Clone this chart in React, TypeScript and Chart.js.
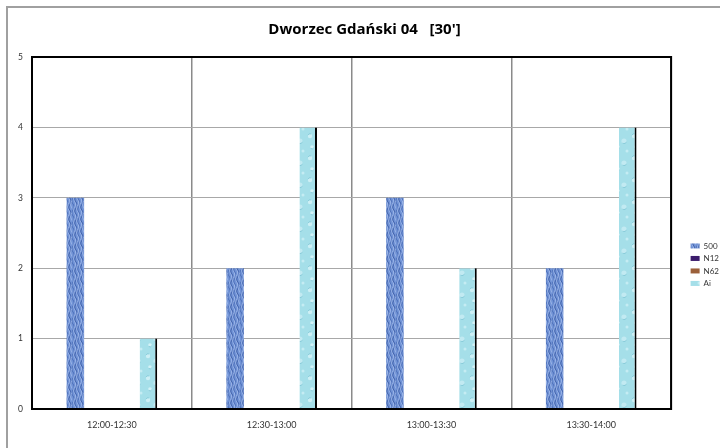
import React, { useEffect, useRef } from 'react';
import { Chart, registerables } from 'chart.js';

Chart.register(...registerables);

const titleText = "Dworzec Gdański 04   [30']";
const categories = ['12:00-12:30', '12:30-13:00', '13:00-13:30', '13:30-14:00'];
const seriesNames = ['500', 'N12', 'N62', 'Ai'];
const values500 = [3, 2, 3, 2];
const valuesN12 = [0, 0, 0, 0];
const valuesN62 = [0, 0, 0, 0];
const valuesAi = [1, 4, 2, 4];
const yMin = 0;
const yMax = 5;
const yStep = 1;

const FONT = 'Lato, "Open Sans", "DejaVu Sans", sans-serif';
const TITLE_FONT = '"Open Sans", Lato, "DejaVu Sans", sans-serif';

function makePattern500(): CanvasPattern | string {
  const c = document.createElement('canvas');
  c.width = 12;
  c.height = 24;
  const g = c.getContext('2d');
  if (!g) return '#6d8fd3';
  g.fillStyle = '#7193d6';
  g.fillRect(0, 0, 12, 24);
  for (let i = 0; i < 4; i++) {
    const x0 = i * 3 + 1;
    g.strokeStyle = i % 2 ? '#4162ab' : '#4e70b9';
    g.lineWidth = 1;
    g.beginPath();
    for (let y = 0; y <= 24; y++) {
      const x = x0 + Math.sin((y / 12) * Math.PI * 2 + i) * 1.2;
      if (y === 0) g.moveTo(x, y);
      else g.lineTo(x, y);
    }
    g.stroke();
    g.strokeStyle = '#abc2ee';
    g.lineWidth = 0.7;
    g.beginPath();
    for (let y = 0; y <= 24; y++) {
      const x = x0 + 1.6 + Math.sin((y / 12) * Math.PI * 2 + i + 1.5) * 1.0;
      if (y === 0) g.moveTo(x, y);
      else g.lineTo(x, y);
    }
    g.stroke();
  }
  return g.createPattern(c, 'repeat') || '#6d8fd3';
}

function makePatternAi(): CanvasPattern | string {
  const c = document.createElement('canvas');
  c.width = 18;
  c.height = 22;
  const g = c.getContext('2d');
  if (!g) return '#a8e1eb';
  g.fillStyle = '#a5dfe9';
  g.fillRect(0, 0, 18, 22);
  const spots: [number, number, number, string][] = [
    [4, 4, 2.2, '#cdeff5'],
    [12, 9, 2.6, '#c2eaf2'],
    [6, 15, 1.8, '#d3f2f7'],
    [15, 19, 1.5, '#c5ecf3'],
  ];
  spots.forEach(([x, y, r, col]) => {
    g.fillStyle = col;
    g.beginPath();
    g.arc(x, y, r, 0, Math.PI * 2);
    g.fill();
  });
  g.strokeStyle = '#7fc6d5';
  g.lineWidth = 0.8;
  g.beginPath();
  g.arc(12, 9, 2.6, 0.3, 2.2);
  g.stroke();
  g.beginPath();
  g.arc(6, 15, 1.8, 0.5, 2.5);
  g.stroke();
  g.beginPath();
  g.arc(4, 4, 2.2, 3.5, 5.2);
  g.stroke();
  return g.createPattern(c, 'repeat') || '#a8e1eb';
}

const framePlugin = {
  id: 'frameAndBorder',
  beforeDraw(chart: any) {
    const ctx = chart.ctx;
    ctx.save();
    ctx.fillStyle = '#ffffff';
    ctx.fillRect(0, 0, chart.width, chart.height);
    ctx.strokeStyle = '#a0a0a0';
    ctx.lineWidth = 2;
    ctx.strokeRect(7, 7, chart.width + 20, chart.height + 20);
    ctx.restore();
  },
  afterDraw(chart: any) {
    const { left, top, right, bottom } = chart.chartArea;
    const ctx = chart.ctx;
    ctx.save();
    ctx.strokeStyle = '#000000';
    ctx.lineWidth = 2;
    ctx.strokeRect(left, top, right - left, bottom - top);
    ctx.restore();
  },
};

export default function App() {
  const ref = useRef<HTMLCanvasElement | null>(null);

  useEffect(() => {
    if (!ref.current) return;
    const p500 = makePattern500();
    const pAi = makePatternAi();
    const chart = new Chart(ref.current, {
      type: 'bar',
      data: {
        labels: categories,
        datasets: [
          { label: seriesNames[0], data: values500, backgroundColor: p500 as any, borderWidth: 0 },
          { label: seriesNames[1], data: valuesN12, backgroundColor: '#3b1c6c', borderWidth: 0 },
          { label: seriesNames[2], data: valuesN62, backgroundColor: '#9b603a', borderWidth: 0 },
          {
            label: seriesNames[3],
            data: valuesAi,
            backgroundColor: pAi as any,
            borderColor: '#000000',
            borderWidth: { left: 0, right: 2, top: 0, bottom: 0 } as any,
            borderSkipped: false,
          },
        ],
      },
      options: {
        animation: false,
        responsive: true,
        maintainAspectRatio: false,
        categoryPercentage: 0.61,
        barPercentage: 0.72,
        layout: { padding: { left: 0, right: -9, top: 0, bottom: 0 } },
        plugins: {
          title: {
            display: true,
            text: titleText,
            color: '#000000',
            font: { family: TITLE_FONT, size: 15, weight: 'bold' },
            padding: { top: 21, bottom: 18 },
          },
          legend: {
            display: true,
            position: 'right',
            title: { display: true, text: '', padding: { top: 67, bottom: 0 } },
            labels: {
              color: '#333333',
              font: { family: FONT, size: 8 },
              boxWidth: 9,
              boxHeight: 5,
              padding: 4.5,
              generateLabels: (ch: any) => {
                const items = (Chart.defaults.plugins.legend.labels as any).generateLabels(ch);
                return items.map((it: any) => ({ ...it, lineWidth: 0, strokeStyle: 'rgba(0,0,0,0)' }));
              },
            },
          },
          tooltip: { enabled: false },
        },
        scales: {
          x: {
            grid: { display: true, offset: true, color: '#8a8a8a', lineWidth: 1.5, drawTicks: false },
            border: { display: true, color: '#000000', width: 2 },
            ticks: { color: '#333333', font: { family: FONT, size: 9 }, padding: 11 },
            afterFit: (s: any) => {
              s.height = 39;
            },
          },
          y: {
            min: yMin,
            max: yMax,
            grid: { color: '#a8a8a8', lineWidth: 1, drawTicks: false },
            border: { display: true, color: '#000000', width: 2 },
            ticks: { stepSize: yStep, color: '#333333', font: { family: FONT, size: 8.5 }, padding: 9 },
            afterFit: (s: any) => {
              s.width = 32;
            },
          },
          pad: {
            type: 'linear',
            position: 'right',
            display: true,
            grid: { display: false },
            border: { display: false },
            ticks: { display: false },
            afterFit: (s: any) => {
              s.width = 15;
            },
          },
        },
      },
      plugins: [framePlugin],
    });
    return () => chart.destroy();
  }, []);

  return (
    <div style={{ position: 'fixed', left: 0, top: 0, width: 720, height: 448, background: '#fff' }}>
      <canvas ref={ref} />
    </div>
  );
}
